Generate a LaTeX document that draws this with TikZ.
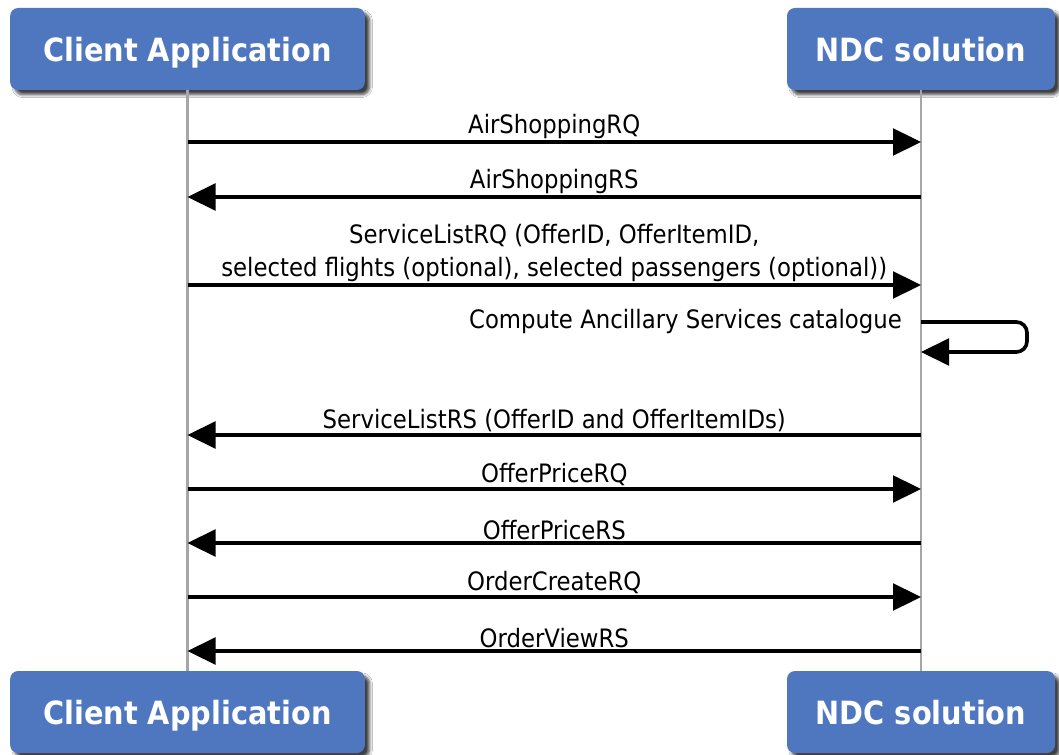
\documentclass[tikz,border=0pt]{standalone}
\usepackage{fontspec}
\setmainfont{DejaVu Sans Condensed}
\usetikzlibrary{arrows.meta,shadows.blur}
\definecolor{ndcblue}{RGB}{79,119,192}

\begin{document}
\begin{tikzpicture}[x=0.75pt,y=-0.75pt,
    actor/.style={rectangle, rounded corners=6pt, fill=ndcblue, inner sep=0pt,
      minimum height=61.5pt, text=white, text height=20pt, text depth=1pt,
      font=\fontsize{24}{28}\selectfont\bfseries,
      blur shadow={shadow xshift=3.5pt, shadow yshift=-3.5pt, shadow blur steps=6, shadow opacity=75}},
    lifeline/.style={gray!70, line width=1.6pt},
    msg/.style={line width=2.7pt, -{Triangle[length=21pt,width=20pt]}},
    lbl/.style={font=\fontsize{19}{25}\selectfont, inner sep=1pt}]
  \useasboundingbox[fill=white] (0,0) rectangle (1059,755);

  % Participants, top and bottom
  \node[actor, minimum width=266pt] (cliTop) at (187.5,49) {Client Application};
  \node[actor, minimum width=201pt] (ndcTop) at (921,49) {NDC solution};
  \node[actor, minimum width=266pt] (cliBot) at (187.5,712) {Client Application};
  \node[actor, minimum width=201pt] (ndcBot) at (921,712) {NDC solution};

  % Lifelines
  \draw[lifeline] (cliTop.south) -- (cliBot.north);
  \draw[lifeline] (ndcTop.south) -- (ndcBot.north);

  % Message points on both lifelines
  \foreach \n/\y in {1/142, 2/197, 3/285, 4/322, 5/352, 6/435, 7/489, 8/543, 9/597, 10/651} {
    \coordinate (c\n) at (cliTop.south |- 0,\y);
    \coordinate (n\n) at (ndcTop.south |- 0,\y);
  }

  % Messages
  \draw[msg] (c1) -- node[lbl, above] {AirShoppingRQ} (n1);
  \draw[msg] (n2) -- node[lbl, above] {AirShoppingRS} (c2);
  \draw[msg] (c3) -- node[lbl, above, align=center]
    {ServiceListRQ (OfferID, OfferItemID,\\selected flights (optional), selected passengers (optional))} (n3);

  % Self call on the NDC side
  \draw[msg, rounded corners=8pt] (n4) node[lbl, left=12pt] {Compute Ancillary Services catalogue}
    -- ++(106,0) |- (n5);

  \draw[msg] (n6) -- node[lbl, above] {ServiceListRS (OfferID and OfferItemIDs)} (c6);
  \draw[msg] (c7) -- node[lbl, above] {OfferPriceRQ} (n7);
  \draw[msg] (n8) -- node[lbl, above] {OfferPriceRS} (c8);
  \draw[msg] (c9) -- node[lbl, above] {OrderCreateRQ} (n9);
  \draw[msg] (n10) -- node[lbl, above] {OrderViewRS} (c10);
\end{tikzpicture}
\end{document}
